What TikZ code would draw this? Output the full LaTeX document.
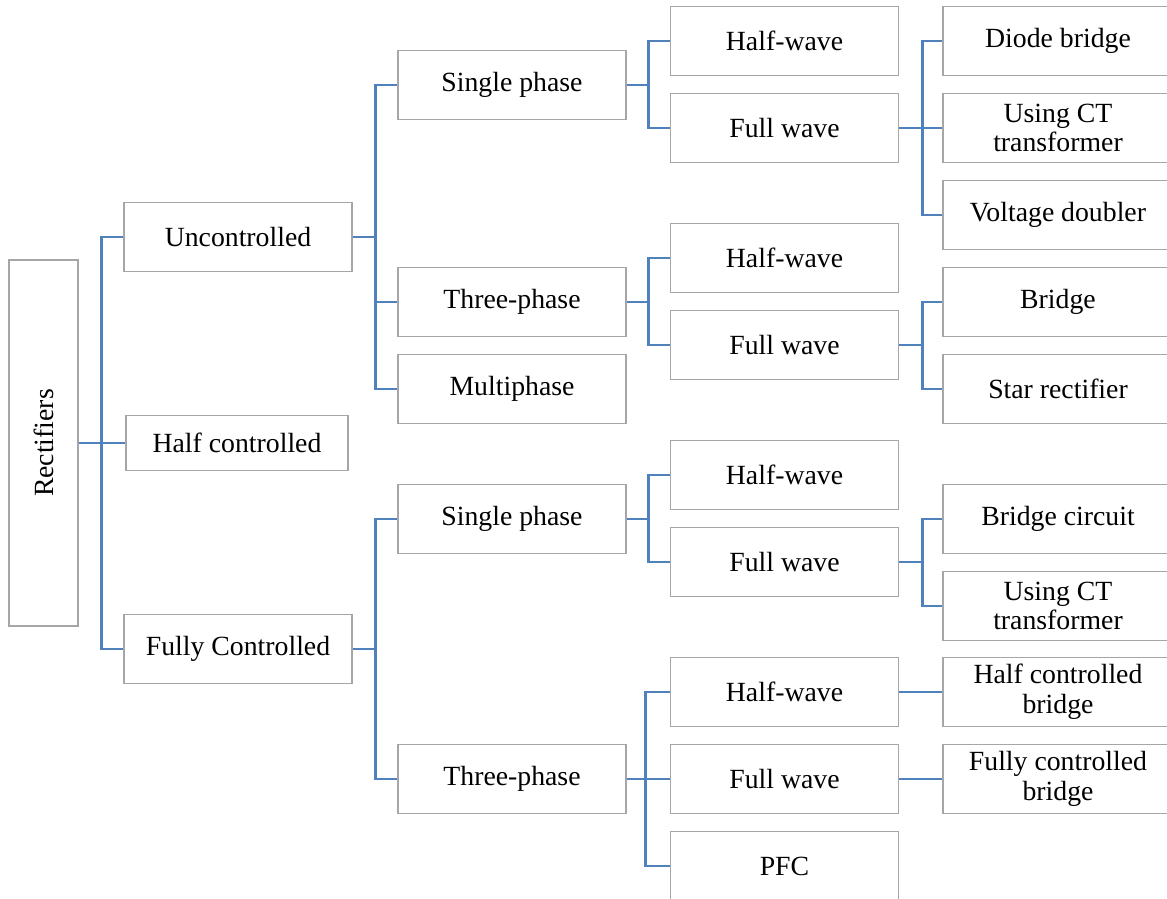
\documentclass[tikz,border=0pt]{standalone}
\usepackage{fontspec}
\setmainfont{Liberation Serif}
\usetikzlibrary{positioning}

\begin{document}
\begin{tikzpicture}[x=0.02cm, y=-0.02cm,
  font=\fontsize{15.8}{17}\selectfont,
  box/.style={draw=boxgray, line width=0.8pt, fill=white, align=center, inner sep=0pt,
    minimum width=4.56cm, minimum height=1.38cm},
  link/.style={draw=linkblue, line width=1.6pt}]
  \definecolor{boxgray}{HTML}{A6A6A6}
  \definecolor{linkblue}{HTML}{4F81BD}
  \useasboundingbox (0,0) rectangle (1167,899);
  \clip (0,0) rectangle (1167,899);

  % root and first level
  \node[box, minimum width=1.38cm, minimum height=7.32cm] (rect) at (43.5,443) {\rotatebox{90}{Rectifiers}};
  \node[box] (unc) at (238,237) {Uncontrolled};
  \node[box, minimum width=4.44cm, minimum height=1.1cm] (half) at (237,443) {Half controlled};
  \node[box] (fully) at (238,649) {Fully Controlled};

  % second level
  \node[box] (sp1) at (512,85) {Single phase};
  \node[box] (tp1) at (512,302) {Three-phase};
  \node[box] (mp) at (512,389) {Multiphase};
  \node[box] (sp2) at (512,519) {Single phase};
  \node[box] (tp2) at (512,779) {Three-phase};

  % third level
  \node[box] (hw1) at (784.5,41) {Half-wave};
  \node[box] (fw1) at (784.5,128) {Full wave};
  \node[box] (hw2) at (784.5,258) {Half-wave};
  \node[box] (fw2) at (784.5,345) {Full wave};
  \node[box] (hw3) at (784.5,475) {Half-wave};
  \node[box] (fw3) at (784.5,562) {Full wave};
  \node[box] (hw4) at (784.5,692) {Half-wave};
  \node[box] (fw4) at (784.5,779) {Full wave};
  \node[box] (pfc) at (784.5,866) {PFC};

  % fourth level
  \node[box, minimum width=4.6cm] (db) at (1058,41) {Diode bridge};
  \node[box, minimum width=4.6cm] (ct1) at (1058,128) {Using CT\\transformer};
  \node[box, minimum width=4.6cm] (vd) at (1058,215) {Voltage doubler};
  \node[box, minimum width=4.6cm] (br) at (1058,302) {Bridge};
  \node[box, minimum width=4.6cm] (star) at (1058,389) {Star rectifier};
  \node[box, minimum width=4.6cm] (bc) at (1058,519) {Bridge circuit};
  \node[box, minimum width=4.6cm] (ct2) at (1058,606) {Using CT\\transformer};
  \node[box, minimum width=4.6cm] (hcb) at (1058,692) {Half controlled\\bridge};
  \node[box, minimum width=4.6cm] (fcb) at (1058,779) {Fully controlled\\bridge};

  % connectors
  \draw[link] (rect.east) -- ++(23,0) |- (unc.west);
  \draw[link] (rect.east) -- (half.west);
  \draw[link] (rect.east) -- ++(23,0) |- (fully.west);

  \draw[link] (unc.east) -- ++(23,0) |- (sp1.west);
  \draw[link] (unc.east) -- ++(23,0) |- (tp1.west);
  \draw[link] (unc.east) -- ++(23,0) |- (mp.west);
  \draw[link] (fully.east) -- ++(23,0) |- (sp2.west);
  \draw[link] (fully.east) -- ++(23,0) |- (tp2.west);

  \draw[link] (sp1.east) -- ++(22,0) |- (hw1.west);
  \draw[link] (sp1.east) -- ++(22,0) |- (fw1.west);
  \draw[link] (tp1.east) -- ++(22,0) |- (hw2.west);
  \draw[link] (tp1.east) -- ++(22,0) |- (fw2.west);
  \draw[link] (sp2.east) -- ++(22,0) |- (hw3.west);
  \draw[link] (sp2.east) -- ++(22,0) |- (fw3.west);
  \draw[link] (tp2.east) -- ++(19,0) |- (hw4.west);
  \draw[link] (tp2.east) -- (fw4.west);
  \draw[link] (tp2.east) -- ++(19,0) |- (pfc.west);

  \draw[link] (fw1.east) -- ++(23,0) |- (db.west);
  \draw[link] (fw1.east) -- (ct1.west);
  \draw[link] (fw1.east) -- ++(23,0) |- (vd.west);
  \draw[link] (fw2.east) -- ++(23,0) |- (br.west);
  \draw[link] (fw2.east) -- ++(23,0) |- (star.west);
  \draw[link] (fw3.east) -- ++(23,0) |- (bc.west);
  \draw[link] (fw3.east) -- ++(23,0) |- (ct2.west);
  \draw[link] (hw4.east) -- (hcb.west);
  \draw[link] (fw4.east) -- (fcb.west);
\end{tikzpicture}
\end{document}
